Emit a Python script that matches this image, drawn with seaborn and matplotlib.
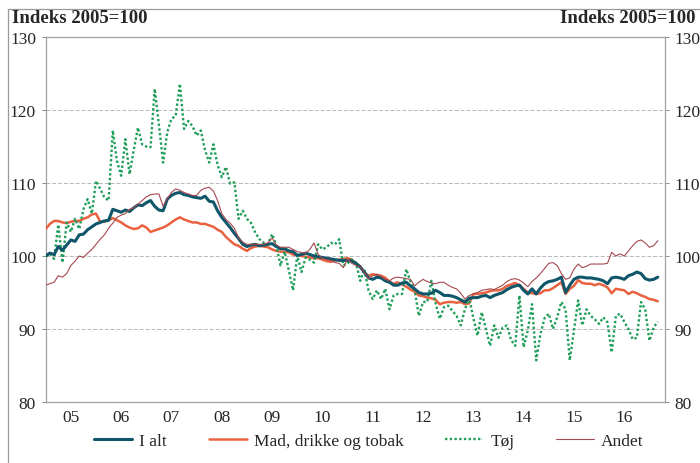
import numpy as np
import pandas as pd
import matplotlib
matplotlib.use("Agg")
import matplotlib.pyplot as plt
from matplotlib.lines import Line2D
import seaborn as sns

# monthly values, Jan 2005 - Mar 2017 (index 2005=100)
i_alt = [100.0, 100.4, 100.2, 101.3, 100.8, 101.5, 102.2, 102.0, 102.9, 103.0, 103.6, 104.0,
         104.4, 104.6, 104.8, 104.9, 106.4, 106.2, 106.0, 106.3, 106.1, 106.6, 107.0, 106.9,
         107.3, 107.6, 106.8, 106.3, 106.2, 107.8, 108.3, 108.6, 108.7, 108.4, 108.3, 108.1,
         108.0, 107.9, 108.2, 107.5, 107.4, 106.2, 105.3, 104.6, 103.9, 103.1, 102.4, 101.6,
         101.3, 101.5, 101.6, 101.4, 101.5, 101.6, 101.7, 101.3, 101.0, 101.0, 100.7, 100.6,
         100.1, 100.2, 100.4, 100.2, 100.0, 99.9, 99.8, 99.7, 99.6, 99.5, 99.4, 99.4,
         99.4, 99.3, 99.0, 98.5, 97.8, 97.0, 96.8, 97.1, 97.0, 96.6, 96.4, 96.0,
         96.0, 96.3, 96.4, 95.9, 95.5, 95.0, 94.8, 94.8, 94.9, 95.3, 95.0, 94.6,
         94.6, 94.5, 94.3, 94.0, 93.7, 94.2, 94.3, 94.3, 94.5, 94.6, 94.3, 94.6,
         94.8, 95.0, 95.4, 95.7, 95.9, 96.0, 95.3, 94.8, 95.5, 94.8, 95.6, 96.2,
         96.5, 96.6, 96.8, 97.1, 95.0, 96.0, 96.8, 97.1, 97.1, 97.0, 97.0, 96.9,
         96.8, 96.6, 96.2, 97.0, 97.1, 97.0, 96.8, 97.3, 97.5, 97.8, 97.6, 96.9,
         96.7, 96.8, 97.1]

mad = [103.7, 104.4, 104.8, 104.8, 104.6, 104.5, 104.7, 104.8, 104.8, 105.1, 105.3, 105.7,
       105.8, 104.7, 104.7, 104.9, 105.2, 104.9, 104.6, 104.2, 103.9, 103.7, 103.8, 104.2,
       103.9, 103.3, 103.5, 103.7, 103.9, 104.2, 104.6, 105.0, 105.3, 105.0, 104.8, 104.6,
       104.6, 104.4, 104.4, 104.2, 104.0, 103.6, 103.3, 102.6, 102.1, 101.6, 101.4, 101.0,
       100.7, 101.1, 101.3, 101.4, 101.3, 101.2, 100.9, 100.7, 100.6, 100.6, 100.5, 100.2,
       100.1, 100.0, 99.9, 99.8, 99.7, 99.7, 99.5, 99.3, 99.2, 99.4, 99.5, 99.6,
       99.7, 99.5, 99.0, 98.6, 97.7, 97.3, 97.5, 97.4, 97.3, 97.0, 96.5, 96.2,
       96.4, 96.1, 95.8, 95.4, 95.1, 94.6, 94.5, 94.3, 94.2, 94.0, 93.4, 93.6,
       93.7, 93.7, 93.6, 93.7, 93.4, 93.5, 94.8, 94.8, 94.9, 95.0, 95.2, 95.3,
       95.3, 95.5, 95.9, 96.1, 96.3, 96.0, 95.5, 95.0, 94.9, 94.8, 94.9, 95.3,
       95.3, 95.6, 96.0, 96.4, 94.8, 95.5, 95.9, 96.7, 96.3, 96.2, 96.2, 96.0,
       96.2, 96.0, 95.7, 94.9, 95.5, 95.4, 95.3, 94.8, 95.1, 94.9, 94.6, 94.4,
       94.1, 94.0, 93.8]

toej = [100.0, 100.3, 99.6, 104.3, 99.1, 104.6, 103.3, 105.1, 103.7, 106.4, 107.8, 105.8,
        110.3, 109.2, 108.0, 107.6, 117.2, 113.0, 111.0, 116.0, 111.2, 114.5, 117.6, 115.3,
        115.0, 114.9, 122.9, 118.0, 112.8, 117.0, 118.8, 119.2, 123.6, 117.4, 118.5, 117.8,
        116.5, 117.2, 114.5, 112.8, 115.3, 112.5, 110.8, 112.2, 109.9, 110.1, 105.1, 106.2,
        105.1, 104.5, 103.2, 102.3, 101.8, 101.6, 103.0, 101.5, 98.7, 100.6, 98.0, 95.3,
        100.1, 97.8, 99.8, 99.5, 99.1, 101.6, 100.9, 101.2, 101.8, 101.6, 102.3, 98.7,
        99.0, 99.5, 99.1, 96.6, 98.2, 95.3, 94.1, 95.3, 94.1, 95.5, 92.7, 94.6,
        94.8, 94.8, 98.2, 96.5, 95.3, 91.8, 93.7, 93.7, 96.6, 93.5, 91.4, 93.0,
        93.2, 92.5, 91.8, 90.5, 92.7, 94.3, 91.5, 89.1, 92.3, 90.0, 87.7, 90.5,
        88.8, 90.2, 90.5, 88.5, 87.7, 94.6, 87.5, 89.8, 93.4, 85.7, 89.3, 91.5,
        92.1, 90.0, 91.6, 93.7, 92.7, 85.7, 89.8, 93.9, 90.5, 92.7, 91.8, 91.3,
        90.7, 91.6, 90.9, 86.8, 91.8, 92.1, 91.0, 90.0, 88.6, 88.8, 93.7, 92.7,
        88.4, 90.2, 91.0]

andet = [96.0, 96.2, 96.4, 97.3, 97.1, 97.6, 98.7, 99.3, 100.0, 99.8, 100.4, 100.9,
         101.6, 102.3, 102.9, 103.8, 104.5, 105.3, 105.6, 105.8, 106.4, 106.6, 107.1, 107.6,
         108.1, 108.4, 108.5, 108.5, 106.8, 107.9, 108.7, 109.2, 109.0, 108.7, 108.5, 108.3,
         108.3, 109.0, 109.3, 109.4, 108.9, 107.6, 105.8, 105.0, 104.5, 103.8, 102.5, 101.9,
         101.6, 101.6, 101.6, 101.6, 101.6, 101.8, 102.5, 101.5, 101.2, 101.2, 101.2, 100.9,
         100.6, 100.5, 100.4, 100.9, 101.8, 100.2, 99.7, 99.5, 99.4, 99.1, 99.0, 98.4,
         99.6, 99.0, 98.7, 98.5, 97.8, 96.9, 97.3, 97.5, 97.2, 96.8, 96.6, 97.0,
         97.1, 97.0, 96.9, 96.8, 95.9, 96.4, 96.8, 96.5, 96.3, 96.2, 96.4, 96.4,
         96.0, 95.7, 95.5, 94.9, 94.1, 94.6, 94.8, 95.0, 95.3, 95.4, 95.5, 95.4,
         95.7, 96.0, 96.5, 96.8, 96.9, 96.7, 96.3, 95.8, 96.5, 97.0, 97.6, 98.3,
         99.0, 99.1, 98.7, 97.6, 96.8, 97.0, 98.2, 98.9, 98.4, 98.6, 98.9, 98.9,
         98.9, 98.9, 99.0, 100.5, 100.0, 100.3, 100.0, 100.7, 101.4, 102.0, 102.2, 101.8,
         101.2, 101.4, 102.1]

year_labels = ['05', '06', '07', '08', '09', '10', '11', '12', '13', '14', '15', '16']

t = 2005 + np.arange(len(i_alt)) / 12
df = pd.DataFrame({'t': t, 'I alt': i_alt, 'Mad, drikke og tobak': mad,
                   'Tøj': toej, 'Andet': andet})

sns.set_style("white")
serif = ['Liberation Serif', 'DejaVu Serif']
plt.rcParams['font.family'] = serif

fig = plt.figure(figsize=(7, 4.64), dpi=100)
ax = fig.add_axes([0.0653, 0.1315, 0.8847, 0.7865])

styles = {
    'Mad, drikke og tobak': dict(color='#ea6140', lw=1.8, ls='-', zorder=3),
    'Tøj': dict(color='#1f9e5a', lw=1.7, ls=(0, (1, 1)), zorder=4),
    'I alt': dict(color='#0f566a', lw=2.2, ls='-', zorder=5),
    'Andet': dict(color='#a5484f', lw=0.8, ls='-', zorder=6),
}
for name, st in styles.items():
    sns.lineplot(data=df, x='t', y=name, ax=ax, color=st['color'], linewidth=st['lw'],
                 linestyle=st['ls'], zorder=st['zorder'])

ax.set_xlim(2005, 2017.31)
ax.set_ylim(80, 130)
ax.set_xlabel('')
ax.set_ylabel('')

quarters = np.arange(2005, 2017.3, 0.25)
qlabels = []
for q in quarters:
    if abs(q - np.floor(q) - 0.5) < 1e-6 and int(q) - 2005 < len(year_labels):
        qlabels.append(year_labels[int(q) - 2005])
    else:
        qlabels.append('')
ax.set_xticks(quarters, qlabels)
ax.tick_params(axis='x', direction='in', length=3, width=0.7, color='#666',
               labelsize=12.5, pad=5)
ax.set_yticks(np.arange(80, 131, 10))
ax.tick_params(axis='y', direction='out', length=3, width=0.7, color='#888',
               labelsize=12.5, left=True, right=True, labelleft=True, labelright=True, pad=4)

for y in [90, 100, 110, 120]:
    ax.axhline(y, color='#b8b8b8', lw=0.7, ls=(0, (4, 2)), zorder=1)

for s in ax.spines.values():
    s.set_color('#a0a0a0')
    s.set_linewidth(0.9)

fig.text(0.017, 0.961, 'Indeks 2005=100', fontsize=13.5, fontweight='bold',
         ha='left', va='center', family=serif)
fig.text(0.993, 0.961, 'Indeks 2005=100', fontsize=13.5, fontweight='bold',
         ha='right', va='center', family=serif)

# outer frame lines
fig.add_artist(Line2D([0.0114, 0.0114], [0.0, 0.978], transform=fig.transFigure,
                      color='#9a9a9a', lw=0.9))
fig.add_artist(Line2D([0.0114, 1.0], [0.978, 0.978], transform=fig.transFigure,
                      color='#9a9a9a', lw=0.9))

order = ['I alt', 'Mad, drikke og tobak', 'Tøj', 'Andet']
handles = [Line2D([], [], color=styles[n]['color'], lw=styles[n]['lw'], ls=styles[n]['ls'])
           for n in order]
leg = fig.legend(handles, order, loc='center', bbox_to_anchor=(0.527, 0.048), ncol=4,
                 frameon=False, fontsize=12.5, handlelength=2.2,
                 columnspacing=2.4, handletextpad=0.4)
for txt in leg.get_texts():
    txt.set_fontfamily(serif)

fig.savefig('out.png', dpi=100)
